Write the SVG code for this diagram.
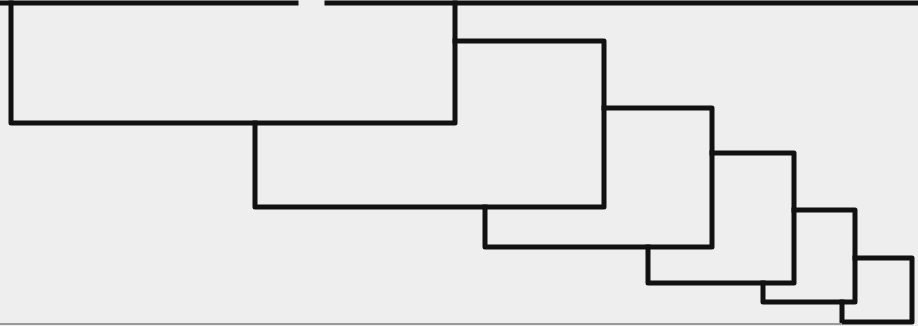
<svg xmlns="http://www.w3.org/2000/svg" width="918" height="326" viewBox="0 0 918 326">
  <style>
    .ln { fill: none; stroke: #111111; stroke-width: 5; stroke-linejoin: round; stroke-linecap: square; }
    .edge { fill: none; stroke: #9a9a9a; stroke-width: 2; }
  </style>
  <rect x="0" y="0" width="918" height="326" fill="#eeeeee"/>
  <g id="connectors">
    <path class="ln" d="M0,3 H296"/>
    <path class="ln" d="M327,3 H918"/>
    <path class="ln" d="M11,3 V123 H455 V3"/>
    <path class="ln" d="M255,123 V207 H604 V41 H455"/>
    <path class="ln" d="M485,207 V247 H712 V108 H604"/>
    <path class="ln" d="M648,247 V283 H794 V153 H712"/>
    <path class="ln" d="M763,283 V302 H855 V210 H794"/>
    <path class="ln" d="M842,302 V322 H912 V258 H855"/>
    <path class="edge" d="M0,324 H842"/>
  </g>
</svg>
